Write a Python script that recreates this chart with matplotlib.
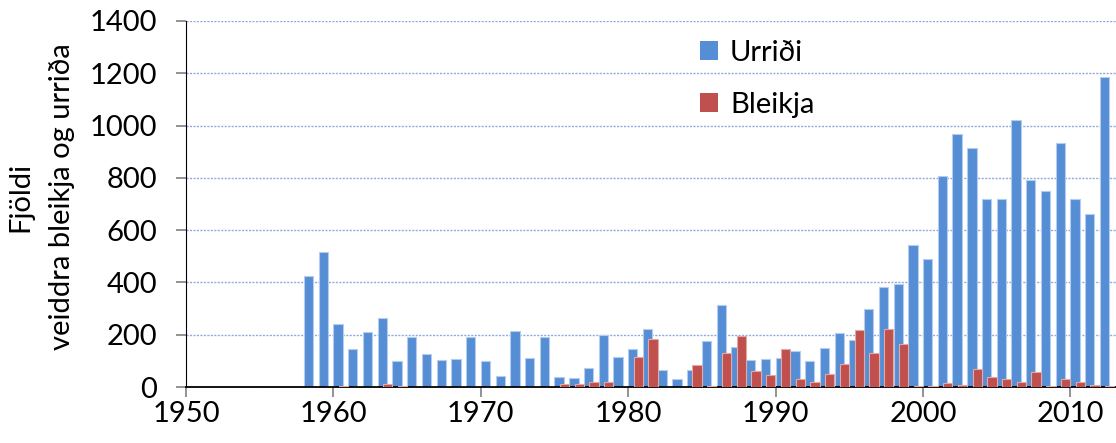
import matplotlib
matplotlib.use("Agg")
import matplotlib.pyplot as plt
from matplotlib.patches import Patch
import numpy as np

plt.rcParams['font.family'] = ['Lato', 'DejaVu Sans']

# ár og fjöldi veiddra fiska
years = list(range(1958, 2013))
urridi = [425, 518, 240, 145, 210, 263, 98, 190, 126, 103,
          108, 190, 98, 43, 216, 110, 193, 38, 35, 73,
          200, 113, 144, 222, 65, 29, 65, 177, 315, 154,
          105, 108, 110, 136, 99, 149, 207, 180, 298, 382,
          394, 545, 490, 807, 968, 915, 718, 718, 1022, 792,
          750, 935, 720, 660, 1185]
bleikja = [0, 0, 5, 0, 0, 13, 2, 0, 0, 0,
           0, 0, 0, 0, 0, 0, 0, 10, 13, 20,
           19, 0, 116, 182, 0, 0, 83, 3, 129, 196,
           60, 47, 144, 29, 20, 51, 88, 218, 130, 222,
           165, 5, 5, 15, 8, 68, 38, 30, 18, 57,
           4, 30, 20, 8, 4]
xticks = [1950, 1960, 1970, 1980, 1990, 2000, 2010]
yticks = [0, 200, 400, 600, 800, 1000, 1200, 1400]

blue = '#558ed5'
red = '#c0504d'

fig = plt.figure(figsize=(11.16, 4.43), dpi=100)
ax = fig.add_axes([186/1116, 56/443, 930/1116, 366/443])

x = np.array(years, dtype=float)
w = 0.63
ax.bar(x, urridi, width=w, align='edge', color=blue,
       edgecolor='#b4cdee', linewidth=0.8, zorder=2)
ax.bar(x + 0.36, bleikja, width=w, align='edge', color=red,
       edgecolor='#e2a9a7', linewidth=0.8, zorder=3)

ax.set_xlim(1950, 1950 + 930/14.74)
ax.set_ylim(0, 1400)
ax.set_xticks(xticks)
ax.set_yticks(yticks)
ax.tick_params(axis='both', labelsize=21, length=7, width=1.2, color='#808080')
ax.tick_params(axis='y', pad=14)
ax.tick_params(axis='x', pad=3)

ax.yaxis.grid(True, color='#8faadc', linestyle=(0, (1.5, 1)), linewidth=1)
ax.set_axisbelow(True)
for s in ['top', 'right']:
    ax.spines[s].set_visible(False)
ax.spines['left'].set_color('black')
ax.spines['bottom'].set_color('black')
ax.spines['bottom'].set_linewidth(1.3)

fig.text(41/1116, 1 - 197/443, 'Fjöldi\nveiddra bleikja og urriða',
         rotation=90, ha='center', va='center', fontsize=21,
         multialignment='center', linespacing=1.75)

handles = [Patch(facecolor=blue, label='Urriði'),
           Patch(facecolor=red, label='Bleikja')]
ax.legend(handles=handles, loc='upper left', bbox_to_anchor=(488/930, 1.02),
          frameon=False, fontsize=21, handlelength=0.62, handleheight=0.62,
          handletextpad=0.4, labelspacing=0.88)

fig.savefig('out.png', dpi=100)
